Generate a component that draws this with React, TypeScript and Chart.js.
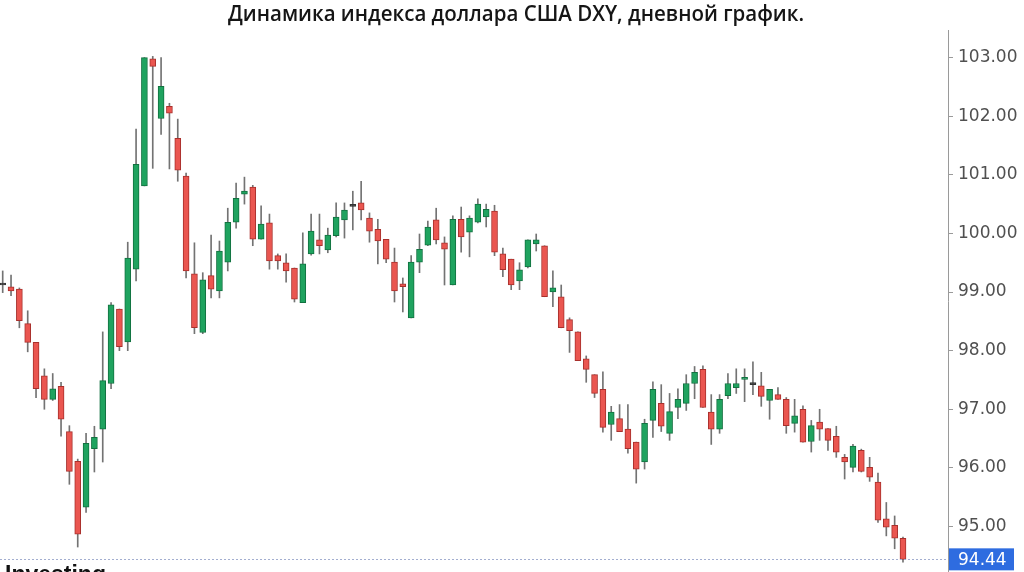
import React, { useEffect, useRef } from "react";
import { Chart, registerables } from "chart.js";

Chart.register(...registerables);

const TITLE = "Динамика индекса доллара США DXY, дневной график.";

const opens = [
  99.12, 99.09, 99.05, 98.46, 98.14, 97.57, 97.17, 97.39, 96.62, 96.11,
  95.33, 96.33, 96.66, 97.44, 98.71, 98.15, 99.39, 100.81, 102.98, 101.96,
  102.17, 101.62, 100.98, 99.31, 98.31, 99.28, 99.02, 99.51, 100.19, 100.67,
  100.79, 99.90, 100.18, 99.62, 99.50, 99.41, 98.82, 99.65, 99.89, 99.72,
  99.96, 100.23, 100.46, 100.52, 100.26, 100.07, 99.90, 99.51, 99.14, 98.56,
  99.51, 99.80, 100.23, 99.84, 99.12, 100.24, 100.02, 100.19, 100.28, 100.38,
  99.65, 99.56, 99.19, 99.43, 99.82, 99.79, 99.00, 98.92, 98.53, 98.32,
  97.86, 97.59, 97.34, 96.74, 96.84, 96.66, 96.44, 96.10, 96.81, 97.10,
  96.59, 97.03, 97.10, 97.44, 97.68, 96.95, 96.66, 97.23, 97.37, 97.51,
  97.42, 97.40, 97.15, 97.25, 97.17, 96.76, 97.00, 96.45, 96.78, 96.67,
  96.54, 96.18, 96.01, 96.30, 96.01, 95.76, 95.13, 95.02, 94.80,
];
const highs = [
  99.36, 99.29, 99.07, 98.68, 98.14, 97.69, 97.61, 97.46, 96.72, 96.15,
  96.59, 96.71, 98.32, 98.82, 98.71, 99.85, 101.78, 103.00, 103.02, 103.00,
  102.22, 101.95, 101.03, 99.84, 99.33, 99.97, 99.87, 100.43, 100.86, 100.96,
  100.82, 100.47, 100.33, 99.65, 99.65, 99.41, 100.01, 100.33, 100.33, 100.09,
  100.52, 100.52, 100.72, 100.89, 100.35, 100.24, 99.90, 99.75, 99.24, 99.62,
  99.99, 100.21, 100.43, 99.94, 100.30, 100.45, 100.30, 100.59, 100.50, 100.48,
  99.75, 99.56, 99.50, 99.89, 99.99, 99.79, 99.36, 99.12, 98.56, 98.32,
  97.91, 97.59, 97.64, 97.05, 97.08, 97.08, 96.44, 96.83, 97.47, 97.42,
  97.27, 97.35, 97.59, 97.73, 97.74, 97.25, 97.25, 97.61, 97.69, 97.69,
  97.81, 97.63, 97.34, 97.37, 97.20, 97.17, 97.06, 96.81, 97.00, 96.67,
  96.71, 96.23, 96.40, 96.32, 96.18, 95.91, 95.41, 95.18, 94.82,
];
const lows = [
  98.99, 98.94, 98.39, 97.98, 97.20, 97.00, 97.15, 96.54, 95.72, 94.65,
  95.24, 95.93, 96.10, 97.35, 98.00, 98.00, 99.19, 100.81, 101.11, 101.69,
  101.10, 100.89, 99.24, 98.29, 98.29, 98.90, 98.90, 99.36, 100.09, 100.50,
  99.79, 99.90, 99.39, 99.39, 99.17, 98.83, 98.82, 99.63, 99.65, 99.67,
  99.94, 99.92, 100.06, 100.23, 99.85, 99.48, 99.50, 98.83, 98.66, 98.56,
  99.33, 99.79, 99.82, 99.12, 99.12, 99.68, 99.60, 100.18, 100.11, 99.62,
  99.26, 99.04, 99.04, 99.41, 99.70, 98.92, 98.75, 98.39, 97.97, 97.83,
  97.46, 97.20, 96.61, 96.47, 96.62, 96.25, 95.74, 95.98, 96.52, 96.62,
  96.47, 96.84, 96.98, 97.18, 97.03, 96.40, 96.59, 97.18, 97.27, 97.13,
  97.25, 97.05, 96.83, 97.17, 96.59, 96.61, 96.44, 96.27, 96.47, 96.30,
  96.18, 95.81, 95.93, 95.93, 95.77, 95.07, 94.84, 94.62, 94.39,
];
const closes = [
  99.12, 99.02, 98.51, 98.14, 97.35, 97.17, 97.35, 96.83, 95.94, 94.87,
  96.42, 96.52, 97.49, 98.78, 98.07, 99.58, 101.18, 103.00, 102.85, 102.51,
  102.05, 101.08, 99.36, 98.39, 99.21, 99.05, 99.70, 100.19, 100.60, 100.72,
  99.90, 100.16, 99.53, 99.53, 99.36, 98.88, 99.48, 100.04, 99.79, 99.97,
  100.28, 100.40, 100.46, 100.40, 100.04, 99.87, 99.56, 99.02, 99.09, 99.51,
  99.73, 100.11, 99.89, 99.73, 100.24, 99.94, 100.26, 100.50, 100.41, 99.68,
  99.38, 99.12, 99.38, 99.89, 99.89, 98.92, 99.07, 98.39, 98.34, 97.83,
  97.68, 97.27, 96.69, 96.95, 96.62, 96.33, 95.98, 96.76, 97.34, 96.71,
  96.96, 97.17, 97.44, 97.63, 97.03, 96.66, 97.17, 97.44, 97.44, 97.54,
  97.42, 97.22, 97.34, 97.17, 96.72, 96.89, 96.44, 96.72, 96.66, 96.47,
  96.27, 96.10, 96.37, 95.94, 95.84, 95.11, 94.99, 94.80, 94.44,
];

const yTicks = [95, 96, 97, 98, 99, 100, 101, 102, 103];
const lastPrice = 94.44;

const Y_MIN = 94.224;
const Y_MAX = 103.47;
const X_MIN = -0.324;
const X_MAX = 113.4;

const GREEN_FILL = "#1fa35f";
const GREEN_BORDER = "#127140";
const RED_FILL = "#ea5650";
const RED_BORDER = "#a8302c";
const DOJI = "#333333";
const WICK = "#737373";

export default function App() {
  const ref = useRef<HTMLCanvasElement>(null);

  useEffect(() => {
    document.body.style.margin = "0";
    const canvas = ref.current;
    if (!canvas) return;
    const idx = opens.map((_, i) => i);
    const fills = idx.map((i) =>
      closes[i] > opens[i] ? GREEN_FILL : closes[i] < opens[i] ? RED_FILL : DOJI
    );
    const borders = idx.map((i) =>
      closes[i] > opens[i] ? GREEN_BORDER : closes[i] < opens[i] ? RED_BORDER : DOJI
    );

    const overlay = {
      id: "overlay",
      afterDraw(chart: any) {
        const ctx = chart.ctx as CanvasRenderingContext2D;
        const area = chart.chartArea;
        const yScale = chart.scales.y;
        const py = yScale.getPixelForValue(lastPrice);

        // dotted last-price line
        ctx.save();
        ctx.strokeStyle = "#a3aed0";
        ctx.lineWidth = 1;
        ctx.setLineDash([2, 2]);
        ctx.beginPath();
        ctx.moveTo(area.left, Math.round(py) + 0.5);
        ctx.lineTo(area.right, Math.round(py) + 0.5);
        ctx.stroke();
        ctx.restore();

        // last price box
        ctx.save();
        ctx.fillStyle = "#2e6ce0";
        ctx.fillRect(area.right + 1, py - 11, 65, 22);
        ctx.fillStyle = "#ffffff";
        ctx.font = '17px "DejaVu Sans"';
        ctx.textBaseline = "middle";
        ctx.textAlign = "left";
        ctx.fillText(lastPrice.toFixed(2), area.right + 10, py + 1);
        ctx.restore();

        // title
        ctx.save();
        ctx.font = '600 21px "Open Sans"';
        const w = ctx.measureText(TITLE).width;
        ctx.translate(516, 15);
        ctx.scale(576 / w, 1);
        ctx.textAlign = "center";
        ctx.textBaseline = "middle";
        ctx.fillStyle = "#151515";
        ctx.fillText(TITLE, 0, 0);
        ctx.restore();

        // watermark logo (cut off at bottom)
        ctx.save();
        ctx.font = 'bold 23px "Liberation Sans"';
        ctx.fillStyle = "#111111";
        ctx.textBaseline = "alphabetic";
        ctx.textAlign = "left";
        ctx.fillText("Investing", 5, 582);
        ctx.font = '12px "Liberation Sans"';
        ctx.fillStyle = "#777777";
        ctx.fillText(".com", 106, 579);
        ctx.restore();
      },
    };

    const chart = new Chart(canvas, {
      type: "bar",
      data: {
        datasets: [
          {
            label: "body",
            data: idx.map((i) => ({ x: i, y: [opens[i], closes[i]] })) as any,
            backgroundColor: fills,
            borderColor: borders,
            borderWidth: 1,
            borderSkipped: false,
            barThickness: 6,
            minBarLength: 2,
            grouped: false,
            order: 0,
          } as any,
          {
            label: "wick",
            data: idx.map((i) => ({ x: i, y: [lows[i], highs[i]] })) as any,
            backgroundColor: WICK,
            borderWidth: 0,
            barThickness: 1,
            grouped: false,
            order: 1,
          } as any,
        ],
      },
      options: {
        animation: false,
        responsive: false,
        maintainAspectRatio: false,
        layout: { padding: { top: 30, left: 0, right: 0, bottom: 0 } },
        plugins: {
          legend: { display: false },
          tooltip: { enabled: false },
          title: { display: false },
        },
        scales: {
          x: {
            type: "linear",
            min: X_MIN,
            max: X_MAX,
            offset: false,
            display: false,
            grid: { offset: false },
          },
          y: {
            position: "right",
            min: Y_MIN,
            max: Y_MAX,
            afterBuildTicks: (axis: any) => {
              axis.ticks = yTicks.map((v) => ({ value: v }));
            },
            afterFit: (s: any) => {
              s.width = 76;
              s.paddingTop = 0;
              s.paddingBottom = 0;
            },
            ticks: {
              callback: (v: any) => Number(v).toFixed(2),
              font: { family: "DejaVu Sans", size: 17 },
              color: "#505050",
              padding: 5,
            },
            grid: { drawOnChartArea: false, tickLength: 5, color: "#9a9a9a" },
            border: { display: true, color: "#9a9a9a" },
          },
        },
      } as any,
      plugins: [overlay],
    });
    return () => chart.destroy();
  }, []);

  return (
    <div style={{ width: 1024, height: 572, position: "relative", background: "#fff" }}>
      <canvas ref={ref} width={1024} height={572} style={{ display: "block" }} />
    </div>
  );
}
